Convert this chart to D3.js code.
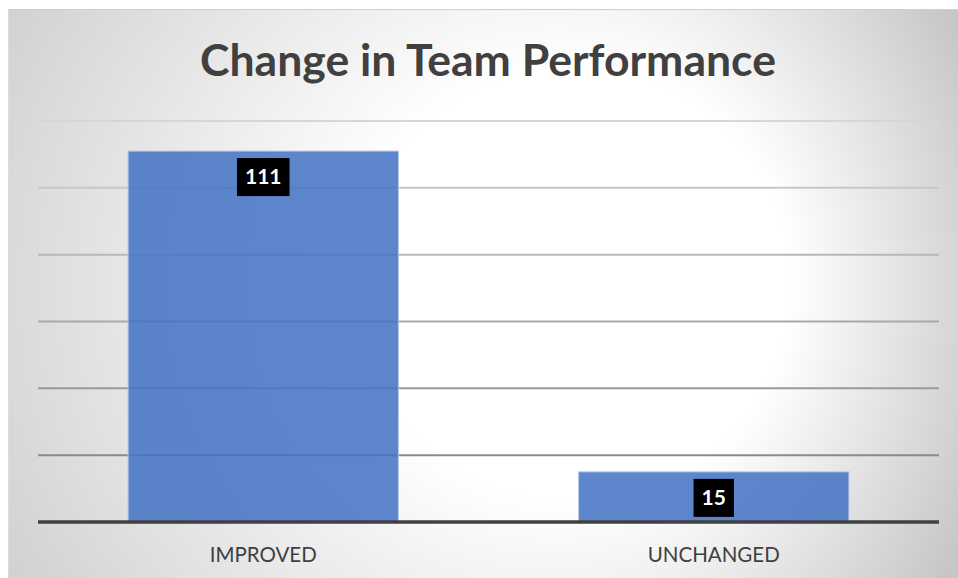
<!DOCTYPE html>
<html>
<head>
<meta charset="utf-8">
<script src="https://cdn.jsdelivr.net/npm/d3@7"></script>
<style>
  body { margin: 0; background: #fff; }
  svg { display: block; }
</style>
</head>
<body>
<div id="chart"></div>
<script>
// data
var categories = ["IMPROVED", "UNCHANGED"]
var values = [111, 15]
var yTicks = [0, 20, 40, 60, 80, 100, 120]
var chartTitle = "Change in Team Performance"

var width = 958, height = 578
var margin = { top: 121, right: 19, bottom: 56, left: 38 }

var svg = d3.select("#chart")
    .append("svg")
    .attr("width", width)
    .attr("height", height)

var defs = svg.append("defs")

// soft radial background, bright in the middle-right
var bg = defs.append("radialGradient")
    .attr("id", "bgGrad")
    .attr("gradientUnits", "userSpaceOnUse")
    .attr("cx", 420).attr("cy", 290).attr("r", 600)
    .attr("fx", 660).attr("fy", 280)
bg.append("stop").attr("offset", "0").attr("stop-color", "#ffffff")
bg.append("stop").attr("offset", "0.36").attr("stop-color", "#ffffff")
bg.append("stop").attr("offset", "1").attr("stop-color", "#c6c6c6")

// gridlines get darker towards the bottom
var gg = defs.append("linearGradient")
    .attr("id", "gridGrad")
    .attr("gradientUnits", "userSpaceOnUse")
    .attr("x1", 0).attr("y1", 121).attr("x2", 0).attr("y2", 456)
gg.append("stop").attr("offset", "0").attr("stop-color", "#d6d6d6")
gg.append("stop").attr("offset", "1").attr("stop-color", "#8a8a8a")

svg.append("rect")
    .attr("x", 8).attr("y", 9)
    .attr("width", width - 8).attr("height", height - 9)
    .attr("fill", "url(#bgGrad)")
svg.append("line")
    .attr("x1", 8).attr("x2", width).attr("y1", 9.5).attr("y2", 9.5)
    .style("stroke", "#d0d0d0")
svg.append("line")
    .attr("x1", 8.5).attr("x2", 8.5).attr("y1", 9).attr("y2", height)
    .style("stroke", "#dcdcdc")

var plotW = width - margin.left - margin.right
var plotH = height - margin.top - margin.bottom   // baseline at 522

var x = d3.scaleBand()
    .domain(categories)
    .range([margin.left, margin.left + plotW])
    .paddingInner(0.4)
    .paddingOuter(0.2)

var y = d3.scaleLinear()
    .domain([0, 120])
    .range([margin.top + plotH, margin.top])

// gridlines
svg.append("g")
    .selectAll("line")
    .data(yTicks.filter(function(d) { return d > 0 }))
    .enter()
    .append("line")
    .attr("x1", margin.left)
    .attr("x2", margin.left + plotW)
    .attr("y1", function(d) { return y(d) })
    .attr("y2", function(d) { return y(d) + 0.01 })
    .style("stroke", "url(#gridGrad)")
    .style("stroke-width", 2)

// bars
svg.append("g")
    .selectAll("rect")
    .data(values)
    .enter()
    .append("rect")
    .attr("x", function(d, i) { return x(categories[i]) })
    .attr("y", function(d) { return y(d) })
    .attr("width", x.bandwidth())
    .attr("height", function(d) { return y(0) - y(d) })
    .attr("fill", "#4472c4")
    .attr("fill-opacity", 0.86)
    .style("stroke", "#b4c7e7")
    .style("stroke-width", 1)

// baseline
svg.append("line")
    .attr("x1", margin.left)
    .attr("x2", margin.left + plotW)
    .attr("y1", y(0))
    .attr("y2", y(0))
    .style("stroke", "#404040")
    .style("stroke-width", 3.5)

// category labels
svg.append("g")
    .selectAll("text")
    .data(categories)
    .enter()
    .append("text")
    .attr("x", function(d) { return x(d) + x.bandwidth() / 2 })
    .attr("y", 562)
    .attr("text-anchor", "middle")
    .style("font", "20.5px Lato")
    .style("fill", "#404040")
    .text(function(d) { return d })

// value labels in black boxes
var lab = svg.append("g")
    .selectAll("g")
    .data(values)
    .enter()
    .append("g")

lab.append("text")
    .attr("x", function(d, i) { return x(categories[i]) + x.bandwidth() / 2 })
    .attr("y", function(d) { return y(d) + 26 })
    .attr("dy", "0.35em")
    .attr("text-anchor", "middle")
    .style("font", "bold 21px Lato")
    .style("fill", "#ffffff")
    .text(function(d) { return d })

lab.insert("rect", "text")
    .each(function(d) {
        var t = d3.select(this.parentNode).select("text").node()
        var w = t.getComputedTextLength() + 16
        var cx = +t.getAttribute("x")
        d3.select(this)
            .attr("x", cx - w / 2)
            .attr("y", y(d) + 7)
            .attr("width", w)
            .attr("height", 38)
            .attr("fill", "#000")
    })

// title, sized to the reference width
var title = svg.append("text")
    .attr("x", 488)
    .attr("y", 76)
    .attr("text-anchor", "middle")
    .style("font-family", "Lato")
    .style("font-weight", "bold")
    .style("font-size", "42px")
    .style("fill", "#404040")
    .text(chartTitle)
var tw = title.node().getComputedTextLength()
title.style("font-size", (42 * 576 / tw) + "px")
</script>
</body>
</html>
